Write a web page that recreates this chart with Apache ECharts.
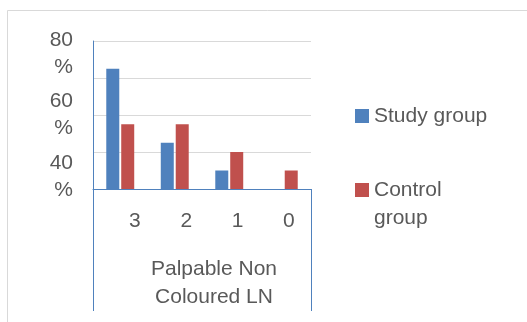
<!DOCTYPE html>
<html>
<head>
<meta charset="utf-8">
<script src="https://cdn.jsdelivr.net/npm/echarts@6/dist/echarts.min.js"></script>
<style>
html,body{margin:0;padding:0;background:#fff;}
#c{width:527px;height:322px;}
</style>
</head>
<body>
<div id="c"></div>
<script>
const categories = ['3', '2', '1', '0'];
const groupLabel = ['Palpable Non\nColoured LN'];
const studyGroup = [65, 25, 10, 0];
const controlGroup = [35, 35, 20, 10];
const yTickLabels = { 80: '80\n%', 60: '60\n%', 40: '40\n%' };
const seriesNames = ['Study group', 'Control group'];

const txt = '#595959';
const axisBlue = '#4f81bd';
const font = 'Liberation Sans';

const chart = echarts.init(document.getElementById('c'), null, { renderer: 'canvas' });
chart.setOption({
  animation: false,
  backgroundColor: '#fff',
  textStyle: { fontFamily: font },
  graphic: [{
    type: 'rect', silent: true,
    shape: { x: 7.5, y: 10.5, width: 600, height: 400 },
    style: { fill: 'none', stroke: '#d9d9d9', lineWidth: 1 }
  }],
  grid: [
    { left: 93, top: 41, width: 218, height: 148, containLabel: false },
    { left: 109.3, top: 41, width: 205.2, height: 148, containLabel: false }
  ],
  legend: {
    orient: 'vertical',
    left: 355, top: 102,
    padding: 0,
    itemWidth: 14, itemHeight: 14,
    itemGap: 18,
    icon: 'rect',
    textStyle: { color: txt, fontSize: 21, fontFamily: font, lineHeight: 28 },
    data: seriesNames,
    formatter: function (n) { return n === 'Control group' ? ' \nControl\ngroup' : n; }
  },
  xAxis: [
    {
      type: 'category', gridIndex: 0, data: categories,
      axisLine: { show: true, lineStyle: { color: axisBlue, width: 1 } },
      axisTick: { show: false },
      axisLabel: { show: false }
    },
    {
      type: 'category', gridIndex: 0, data: groupLabel, position: 'bottom',
      axisLine: { show: false },
      axisTick: { show: true, length: 122, lineStyle: { color: axisBlue, width: 1 } },
      axisLabel: { show: true, margin: 66, color: txt, fontSize: 21, fontFamily: font,
        lineHeight: 28, padding: [0, 0, 0, 24] }
    },
    {
      type: 'category', gridIndex: 1, data: categories,
      axisLine: { show: false }, axisTick: { show: false },
      axisLabel: { margin: 22, color: txt, fontSize: 21, fontFamily: font, lineHeight: 21 }
    }
  ],
  yAxis: [
    {
      type: 'value', gridIndex: 0, min: 0, max: 80, interval: 20,
      axisLine: { show: true, lineStyle: { color: axisBlue, width: 1 } },
      axisTick: { show: false },
      axisLabel: { show: false },
      splitLine: { show: true, lineStyle: { color: '#d9d9d9', width: 1 } }
    },
    {
      type: 'value', gridIndex: 0, min: 36, max: 84, interval: 4, position: 'left',
      axisLine: { show: false }, axisTick: { show: false }, splitLine: { show: false },
      axisLabel: {
        margin: 20, color: txt, fontSize: 21, fontFamily: font, lineHeight: 27, align: 'right',
        showMinLabel: true, showMaxLabel: true,
        formatter: function (v) { return yTickLabels[v] || ''; }
      }
    },
    { type: 'value', gridIndex: 1, show: false, min: 0, max: 80 }
  ],
  series: [
    { name: seriesNames[0], type: 'bar', xAxisIndex: 0, yAxisIndex: 0, data: studyGroup,
      barWidth: 13, barGap: '15%', itemStyle: { color: '#4f81bd' } },
    { name: seriesNames[1], type: 'bar', xAxisIndex: 0, yAxisIndex: 0, data: controlGroup,
      barWidth: 13, barGap: '15%', itemStyle: { color: '#c0504d' } }
  ]
});
</script>
</body>
</html>
